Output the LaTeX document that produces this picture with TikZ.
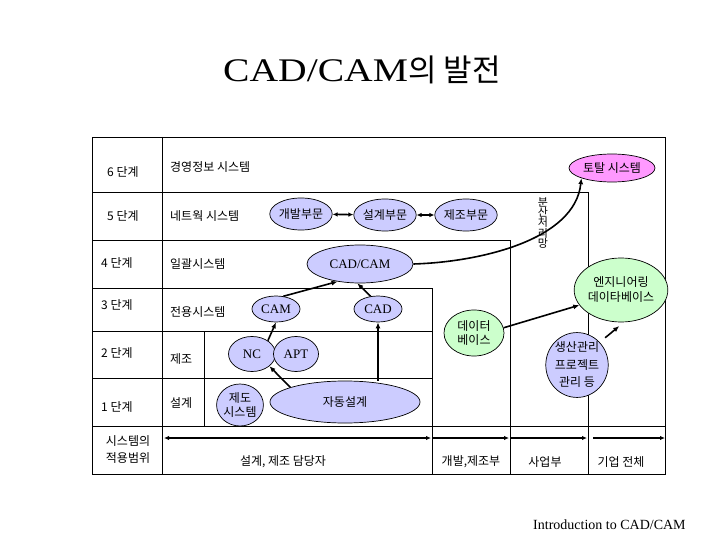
\documentclass[tikz,border=0pt]{standalone}
\usepackage{fontspec}
\usepackage{graphicx}
\setmainfont{Liberation Serif}
\newfontfamily\kr{Noto Sans CJK KR}
\usetikzlibrary{shapes.geometric,arrows.meta}
\definecolor{blue1}{HTML}{CCCCFF}
\definecolor{green1}{HTML}{CCFFCC}
\definecolor{pink1}{HTML}{FF99FF}
\begin{document}
\begin{tikzpicture}[x=1pt,y=-1pt,
  grid/.style={line width=0.8pt},
  el/.style={ellipse,draw,line width=0.7pt,inner sep=0pt,align=center},
  blu/.style={el,fill=blue1},
  grn/.style={el,fill=green1},
  kt/.style={font=\kr\fontsize{12}{14}\selectfont},
  lt/.style={font=\fontsize{13}{15}\selectfont},
  lbl/.style={kt,anchor=west,inner sep=0pt},
  arr/.style={line width=1.6pt,-{Latex[length=6pt,width=5pt]}},
  darr/.style={line width=1.6pt,{Latex[length=5pt,width=4.5pt]}-{Latex[length=5pt,width=4.5pt]}},
  barr/.style={line width=1.4pt,-{Latex[length=5pt,width=4.5pt]}},
]
\useasboundingbox (0,0) rectangle (720,540);
\fill[white] (0,0) rectangle (720,540);

% title
\node[anchor=base west,inner sep=0pt] (title) at (223,82)
  {\fontsize{33}{36}\selectfont\scalebox{1.2}[1]{CAD/CAM}\kr\fontsize{31}{34}\selectfont 의 발전};
\node[anchor=base west,inner sep=0pt] (foot) at (533,529)
  {\fontsize{14}{16}\selectfont Introduction to CAD/CAM};

% frame and grid
\draw[grid] (92,137) rectangle (665,474);
\draw[grid] (162,137) -- (162,474);
\foreach \yy in {192,240,288,331,378,426} \draw[grid] (92,\yy) -- (162,\yy);
\draw[grid] (162,192) -- (588,192) -- (588,474);
\draw[grid] (162,240) -- (510,240) -- (510,474);
\draw[grid] (162,288) -- (432,288) -- (432,474);
\draw[grid] (162,331) -- (432,331);
\draw[grid] (162,378) -- (432,378);
\draw[grid] (204,331) -- (204,426);
\draw[grid] (92,426) -- (665,426);

% stage labels
\node[lbl] (s6) at (107,172) {6 단계};
\node[lbl] (s5) at (107,216) {5 단계};
\node[lbl] (s4) at (101,263) {4 단계};
\node[lbl] (s3) at (101,305) {3 단계};
\node[lbl] (s2) at (101,353) {2 단계};
\node[lbl] (s1) at (101,407) {1 단계};
\node[kt,align=center,inner sep=0pt,font=\kr\fontsize{12}{17}\selectfont] (s0) at (128,450) {시스템의\\적용범위};

% system labels
\node[lbl] (t6) at (170,167) {경영정보 시스템};
\node[lbl] (t5) at (170,216) {네트웍 시스템};
\node[lbl] (t4) at (170,264) {일괄시스템};
\node[lbl] (t3) at (170,312) {전용시스템};
\node[lbl] (t2) at (170,359) {제조};
\node[lbl] (t1) at (170,403) {설계};

% vertical label
\node[inner sep=0pt,align=center,font=\kr\fontsize{11}{10.3}\selectfont] (net) at (543,223)
  {분\\산\\처\\리\\망};

% bottom labels
\node[kt,inner sep=0pt] (b1) at (283,462) {설계, 제조 담당자};
\node[kt,inner sep=0pt] (b2) at (471,462) {개발,제조부};
\node[kt,inner sep=0pt] (b3) at (545,462) {사업부};
\node[kt,inner sep=0pt] (b4) at (621,462) {기업 전체};

% bottom arrows
\coordinate (a0) at (164,438);
\coordinate (a1) at (431,438);
\coordinate (a1b) at (433,438);
\coordinate (a2) at (509,438);
\coordinate (a2b) at (511,438);
\coordinate (a3) at (587,438);
\coordinate (a3b) at (593,438);
\coordinate (a4) at (665,438);
\draw[barr,{Latex[length=5pt,width=4.5pt]}-{Latex[length=5pt,width=4.5pt]}] (a0) -- (a1);
\draw[barr] (a1b) -- (a2);
\draw[barr] (a2b) -- (a3);
\draw[barr] (a3b) -- (a4);

% ellipses
\node[el,fill=pink1,minimum width=86pt,minimum height=28pt,kt] (tot) at (612,168) {토탈 시스템};
\node[blu,minimum width=62pt,minimum height=32pt,kt] (dev) at (301,214) {개발부문};
\node[blu,minimum width=60pt,minimum height=32pt,kt] (des) at (385,215) {설계부문};
\node[blu,minimum width=56pt,minimum height=32pt,kt] (mfg) at (466,215) {제조부문};
\node[blu,minimum width=106pt,minimum height=38pt,lt] (cc) at (360,264) {CAD/CAM};
\node[blu,minimum width=48pt,minimum height=26pt,lt] (cam) at (276,309) {CAM};
\node[blu,minimum width=48pt,minimum height=26pt,lt] (cad) at (378,309) {CAD};
\node[blu,minimum width=47pt,minimum height=35pt,lt] (nc) at (252,354) {NC};
\node[blu,minimum width=45pt,minimum height=35pt,lt] (apt) at (296,354) {APT};
\node[blu,minimum width=46pt,minimum height=42pt,font=\kr\fontsize{12}{13.5}\selectfont] (drf) at (240,405) {제도\\시스템};
\node[blu,minimum width=150pt,minimum height=42pt,kt] (auto) at (345,402) {자동설계};
\node[grn,minimum width=60pt,minimum height=46pt,font=\kr\fontsize{12}{14.5}\selectfont] (db) at (474,333) {데이터\\베이스};
\node[grn,minimum width=92pt,minimum height=64pt,font=\kr\fontsize{12}{15}\selectfont] (edb) at (621,290) {엔지니어링\\데이타베이스};
\node[blu,minimum width=62pt,minimum height=62pt,font=\kr\fontsize{12}{17.5}\selectfont] (pm) at (577,365) {생산관리\\프로젝트\\관리 등};

% connectors
\draw[darr] (dev) -- (des);
\draw[darr] (des) -- (mfg);
\draw[arr] (cc.east) .. controls (480,262) and (575,240) .. (tot.south west);
\draw[arr] (cam.60) -- (cc.218);
\draw[arr] (cad.120) -- (cc.262);
\draw[arr] (nc.40) -- (cam.south);
\draw[arr] (auto.165) -- (nc.325);
\draw[arr] (cad.south |- auto.north) -- (cad.south);
\draw[arr] (db.10) -- (edb.200);
\draw[arr,shorten <=7pt,shorten >=6pt] (pm.45) -- (edb.275);
\end{tikzpicture}
\end{document}
